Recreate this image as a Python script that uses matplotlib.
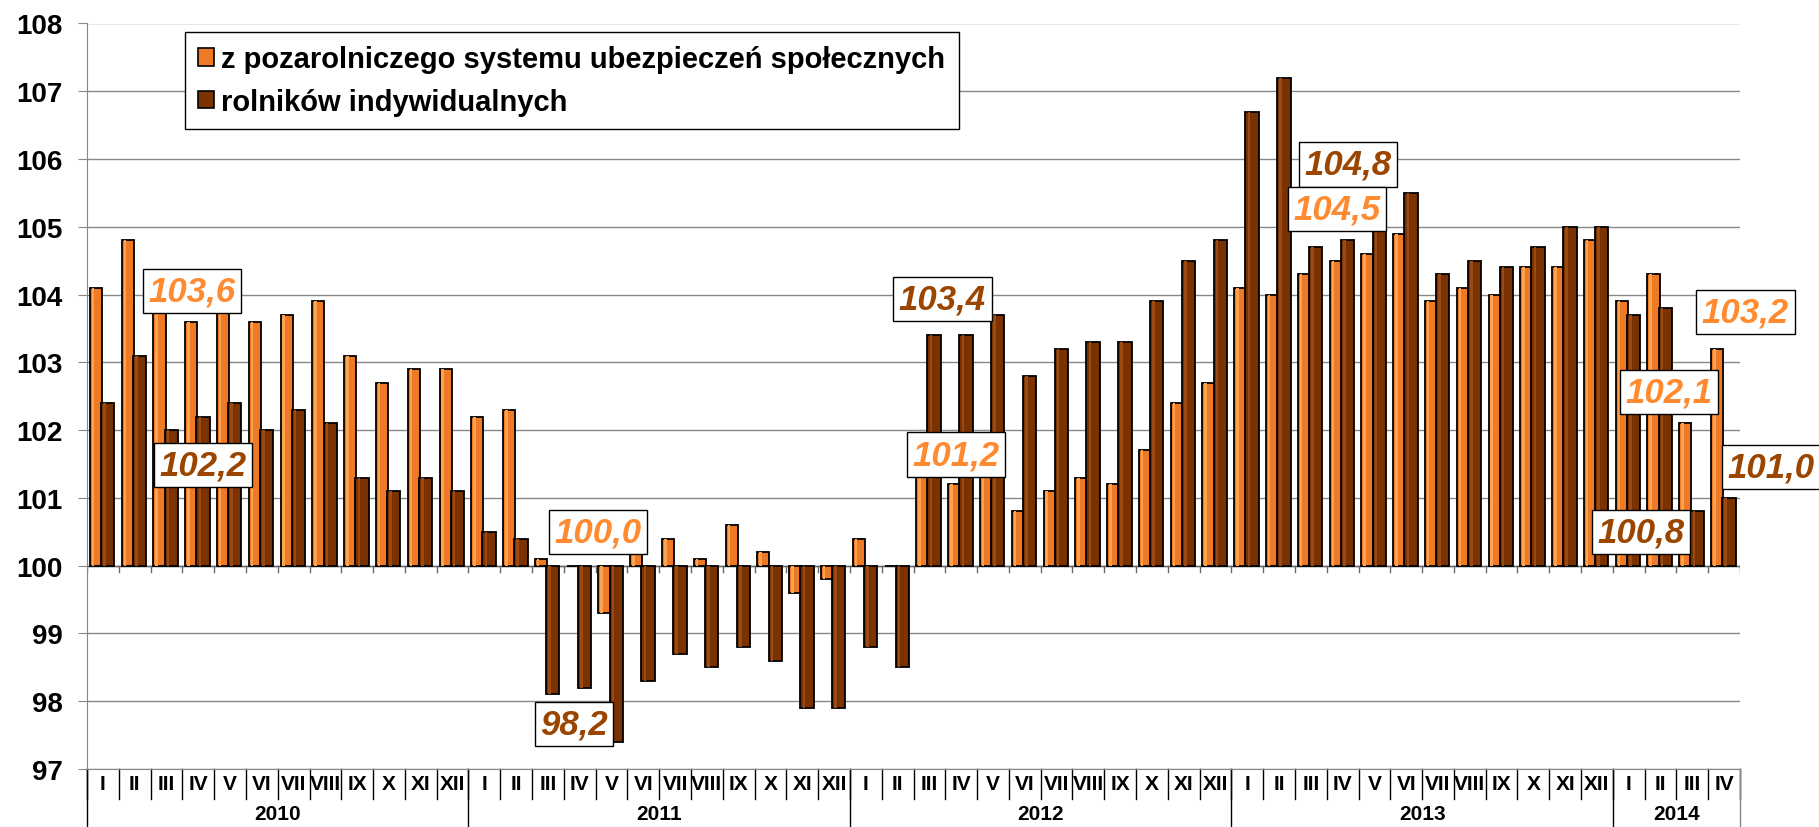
import matplotlib
matplotlib.use("Agg")
import numpy as np
from matplotlib import pyplot as plt
from matplotlib.patches import Patch

plt.rcParams["font.family"] = ["Liberation Sans", "DejaVu Sans"]
plt.rcParams["font.weight"] = "bold"

# data
years = ["2010", "2011", "2012", "2013", "2014"]
months_per_year = [12, 12, 12, 12, 4]
roman = ["I", "II", "III", "IV", "V", "VI", "VII", "VIII", "IX", "X", "XI", "XII"]

pozarolniczy = [
    104.1, 104.8, 103.8, 103.6, 103.8, 103.6, 103.7, 103.9, 103.1, 102.7, 102.9, 102.9,
    102.2, 102.3, 100.1, 100.0, 99.3, 100.2, 100.4, 100.1, 100.6, 100.2, 99.6, 99.8,
    100.4, 100.0, 101.5, 101.2, 101.4, 100.8, 101.1, 101.3, 101.2, 101.7, 102.4, 102.7,
    104.1, 104.0, 104.3, 104.5, 104.6, 104.9, 103.9, 104.1, 104.0, 104.4, 104.4, 104.8,
    103.9, 104.3, 102.1, 103.2,
]
rolnicy = [
    102.4, 103.1, 102.0, 102.2, 102.4, 102.0, 102.3, 102.1, 101.3, 101.1, 101.3, 101.1,
    100.5, 100.4, 98.1, 98.2, 97.4, 98.3, 98.7, 98.5, 98.8, 98.6, 97.9, 97.9,
    98.8, 98.5, 103.4, 103.4, 103.7, 102.8, 103.2, 103.3, 103.3, 103.9, 104.5, 104.8,
    106.7, 107.2, 104.7, 104.8, 105.3, 105.5, 104.3, 104.5, 104.4, 104.7, 105.0, 105.0,
    103.7, 103.8, 100.8, 101.0,
]
series_names = ["z pozarolniczego systemu ubezpieczeń społecznych", "rolników indywidualnych"]

# callout labels (text, series index)
callouts = [
    ("103,6", 0), ("102,2", 1), ("100,0", 0), ("98,2", 1),
    ("103,4", 1), ("101,2", 0), ("104,8", 1), ("104,5", 0),
    ("103,2", 0), ("102,1", 0), ("101,0", 1), ("100,8", 1),
]
callout_pos = [
    (3.30, 104.05), (3.66, 101.48), (16.07, 100.50), (15.32, 97.67),
    (26.91, 103.93), (27.34, 101.64), (39.67, 105.92), (39.32, 105.26),
    (52.17, 103.74), (49.76, 102.56), (52.97, 101.45), (48.88, 100.50),
]

c_orange = "#EE7A26"
c_orange_hi = "#FFA24D"
c_dark = "#7A3300"
c_dark_hi = "#9C4A12"
c_text = ["#FF8A30", "#9A4500"]

months = [roman[i] for n in months_per_year for i in range(n)]
n = len(months)
x = np.arange(n)
o = np.array(pozarolniczy)
d = np.array(rolnicy)

W, H = 1819, 828
fig = plt.figure(figsize=(W / 100, H / 100), dpi=100)
left, right, top, bottom = 87, 1740, 24.5, 770
ax = fig.add_axes([left / W, 1 - bottom / H, (right - left) / W, (bottom - top) / H])
ax.set_xlim(0, n)
ax.set_ylim(97, 108)

ax.set_yticks(range(97, 109))
ax.yaxis.grid(True, color="#888888", linewidth=1.0)
ax.set_axisbelow(True)
ax.tick_params(axis="y", length=6.5, color="#888888", labelsize=20, pad=11)
ax.set_xticks([])
for s in ["top", "right"]:
    ax.spines[s].set_visible(False)
ax.spines["left"].set_color("#888888")
ax.spines["bottom"].set_color("#888888")

# bars (orange behind, dark in front)
ax.bar(x + 0.28, o - 100, width=0.38, bottom=100, color=c_orange,
       edgecolor="black", linewidth=1.3, zorder=3)
ax.bar(x + 0.19, o - 100, width=0.08, bottom=100, color=c_orange_hi,
       linewidth=0, zorder=3.1)
ax.bar(x + 0.65, d - 100, width=0.42, bottom=100, color=c_dark,
       edgecolor="black", linewidth=1.3, zorder=4)
ax.bar(x + 0.55, d - 100, width=0.08, bottom=100, color=c_dark_hi,
       linewidth=0, zorder=4.1)

# category axis at 100
ax.axhline(100, color="#666666", linewidth=1.0, zorder=2.5)
for i in range(n + 1):
    ax.plot([i, i], [100, 99.9], color="#666666", linewidth=1.0, zorder=2.5)

# month and year labels
trans = ax.get_xaxis_transform()
h = bottom - top
for i, m in enumerate(months):
    ax.text(i + 0.5, -(785 - bottom) / h, m, transform=trans, ha="center", va="center",
            fontsize=15, family=["Liberation Sans Narrow", "Liberation Sans"], fontweight="bold")
for i in range(n + 1):
    ax.plot([i, i], [0, -(800 - bottom) / h], transform=trans, color="black",
            linewidth=1.0, clip_on=False)
start = 0
for yname, cnt in zip(years, months_per_year):
    ax.text(start + cnt / 2, -(815 - bottom) / h, yname, transform=trans, ha="center",
            va="center", fontsize=15, fontweight="bold")
    ax.plot([start, start], [0, -(H - bottom) / h], transform=trans, color="black",
            linewidth=1.0, clip_on=False)
    start += cnt
ax.plot([n, n], [0, -(H - bottom) / h], transform=trans, color="#888888",
        linewidth=1.0, clip_on=False)

# callout boxes
for (txt, si), (px, py) in zip(callouts, callout_pos):
    ax.text(px, py, txt, ha="center", va="center", fontsize=25, fontweight="bold",
            fontstyle="italic", color=c_text[si], zorder=6, clip_on=False,
            bbox=dict(boxstyle="square,pad=0.16", facecolor="white", edgecolor="black",
                      linewidth=1.0))

handles = [Patch(facecolor=c_orange, edgecolor="black", linewidth=1.2),
           Patch(facecolor=c_dark, edgecolor="black", linewidth=1.2)]
leg = fig.legend(handles, series_names, loc="upper left",
                 bbox_to_anchor=(185 / W, 1 - 33 / H), fontsize=21, frameon=True,
                 fancybox=False, framealpha=1, edgecolor="black", borderpad=0.45,
                 handlelength=0.55, handleheight=0.55, handletextpad=0.25,
                 labelspacing=0.5, borderaxespad=0)
leg.get_frame().set_linewidth(1.0)
leg.set_zorder(7)
for t in leg.get_texts():
    t.set_fontweight("bold")

fig.savefig("out.png", dpi=100)
